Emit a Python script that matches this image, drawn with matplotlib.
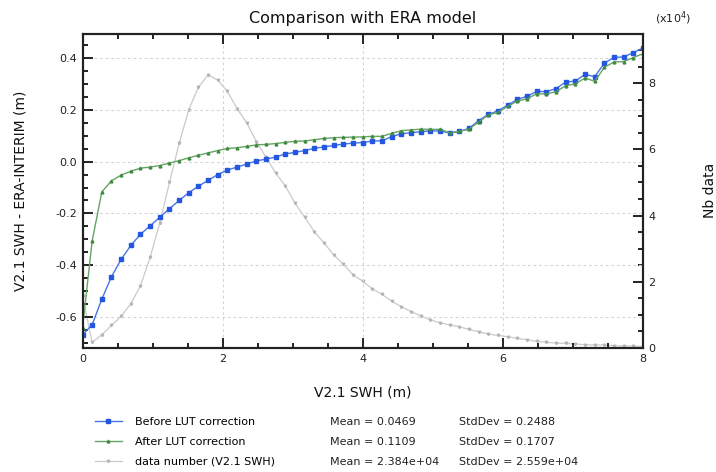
import numpy as np
import matplotlib
matplotlib.use('Agg')
import matplotlib.pyplot as plt
from matplotlib.ticker import MultipleLocator

plt.rcParams['axes.unicode_minus'] = False
plt.rcParams['font.family'] = 'DejaVu Sans'

# bins of V2.1 SWH (m)
swh = np.linspace(0, 8, 59)

# SWH difference V2.1 - ERA-INTERIM (m), before the LUT correction
before_lut = [
    -0.670, -0.631, -0.532, -0.445, -0.378, -0.324, -0.281, -0.248, -0.215, -0.182,
    -0.150, -0.120, -0.095, -0.072, -0.050, -0.032, -0.021, -0.009, 0.003, 0.010,
    0.018, 0.030, 0.036, 0.043, 0.052, 0.057, 0.063, 0.068, 0.072, 0.074,
    0.080, 0.081, 0.097, 0.108, 0.112, 0.116, 0.119, 0.119, 0.111, 0.117,
    0.129, 0.159, 0.183, 0.197, 0.219, 0.241, 0.253, 0.272, 0.271, 0.283,
    0.308, 0.312, 0.338, 0.329, 0.381, 0.404, 0.405, 0.422, 0.440,
]

# same difference after the LUT correction
after_lut = [
    -0.644, -0.307, -0.117, -0.074, -0.052, -0.037, -0.025, -0.021, -0.015, -0.005,
    0.004, 0.015, 0.025, 0.034, 0.043, 0.051, 0.054, 0.059, 0.065, 0.067,
    0.070, 0.075, 0.079, 0.080, 0.085, 0.090, 0.093, 0.094, 0.095, 0.096,
    0.098, 0.098, 0.110, 0.120, 0.123, 0.126, 0.125, 0.125, 0.112, 0.117,
    0.126, 0.154, 0.181, 0.191, 0.214, 0.235, 0.243, 0.263, 0.262, 0.271,
    0.294, 0.301, 0.324, 0.311, 0.365, 0.386, 0.387, 0.403, 0.418,
]

# number of data per bin, in units of 1e4
nb_data = [
    1.56, 0.17, 0.40, 0.68, 0.96, 1.34, 1.88, 2.74, 3.78, 5.00,
    6.18, 7.20, 7.88, 8.25, 8.09, 7.75, 7.23, 6.80, 6.23, 5.76,
    5.28, 4.89, 4.37, 3.95, 3.51, 3.17, 2.81, 2.53, 2.21, 2.02,
    1.78, 1.62, 1.41, 1.25, 1.10, 0.97, 0.85, 0.76, 0.70, 0.64,
    0.56, 0.49, 0.42, 0.38, 0.34, 0.29, 0.25, 0.20, 0.17, 0.15,
    0.14, 0.12, 0.10, 0.09, 0.09, 0.07, 0.06, 0.06, 0.05,
]

labels = ['Before LUT correction', 'After LUT correction', 'data number (V2.1 SWH)']
means = ['Mean = 0.0469', 'Mean = 0.1109', 'Mean = 2.384e+04']
stddevs = ['StdDev = 0.2488', 'StdDev = 0.1707', 'StdDev = 2.559e+04']

W, H = 716, 472
fig = plt.figure(figsize=(W / 100, H / 100), dpi=100)
ax = fig.add_axes([82.5 / W, 1 - 348 / H, 560.5 / W, 314.5 / H])
ax2 = ax.twinx()
ax.set_zorder(ax2.get_zorder() + 1)
ax.patch.set_visible(False)

l3, = ax2.plot(swh, nb_data, color='#cacaca', lw=0.9, marker='v', ms=1.8,
               mec='#b4b4b4', mfc='#b4b4b4')
l1, = ax.plot(swh, before_lut, color='#4476ea', lw=1.0, marker='s', ms=2.4,
              mec='#2456e0', mfc='#2456e0')
l2, = ax.plot(swh, after_lut, color='#66a466', lw=1.0, marker='^', ms=2.0,
              mec='#3f8a3f', mfc='#3f8a3f')

ax.set_xlim(0, 8)
ax.set_ylim(-0.721, 0.496)
ax2.set_ylim(0, 9.5)

ax.xaxis.set_major_locator(MultipleLocator(2))
ax.xaxis.set_minor_locator(MultipleLocator(0.5))
ax.yaxis.set_major_locator(MultipleLocator(0.2))
ax.yaxis.set_minor_locator(MultipleLocator(0.05))
ax.yaxis.set_major_formatter(plt.FormatStrFormatter('%.1f'))
ax2.yaxis.set_major_locator(MultipleLocator(2))
ax2.yaxis.set_minor_locator(MultipleLocator(0.5))

ax.grid(True, which='major', color='#d6d6d6', ls=(0, (2.5, 2.5)), lw=0.8)

ax.tick_params(which='both', direction='in', top=True, right=False,
               width=1.4, color='#222222', labelsize=8, pad=4, labelcolor='#222222')
ax.tick_params(which='major', length=7)
ax.tick_params(which='minor', length=3.8)
ax2.tick_params(which='both', direction='in', width=1.4, color='#222222',
                labelsize=8, pad=4, labelcolor='#222222')
ax2.tick_params(which='major', length=7)
ax2.tick_params(which='minor', length=3.8)

for a in (ax, ax2):
    for s in a.spines.values():
        s.set_linewidth(1.5)
        s.set_color('#222222')

ax.set_title('Comparison with ERA model', fontsize=11.5, pad=7.5, color='#111111')
ax.set_xlabel('V2.1 SWH (m)', fontsize=10, color='#111111')
ax.xaxis.set_label_coords(0.5, -0.12)
ax.set_ylabel('V2.1 SWH - ERA-INTERIM (m)', fontsize=10, color='#111111')
ax.yaxis.set_label_coords(-0.099, 0.5)
ax2.set_ylabel('Nb data', fontsize=10, color='#111111')
ax2.yaxis.set_label_coords(1.107, 0.5)
fig.text(655 / W, 1 - 22 / H, r'(x10$^{4}$)', fontsize=8, va='baseline',
         color='#222222')

fig.legend([l1, l2, l3], labels, loc='upper left', frameon=False, fontsize=8,
           bbox_to_anchor=(95 / W, 1 - 417 / H), borderpad=0, borderaxespad=0,
           handlelength=2.4, handletextpad=1.2, labelspacing=0.9)
for i in range(3):
    y = 1 - (422 + 20 * i) / H
    fig.text(330 / W, y, means[i], fontsize=8, va='center', color='#222222')
    fig.text(459 / W, y, stddevs[i], fontsize=8, va='center', color='#222222')

fig.savefig('out.png', dpi=100)
